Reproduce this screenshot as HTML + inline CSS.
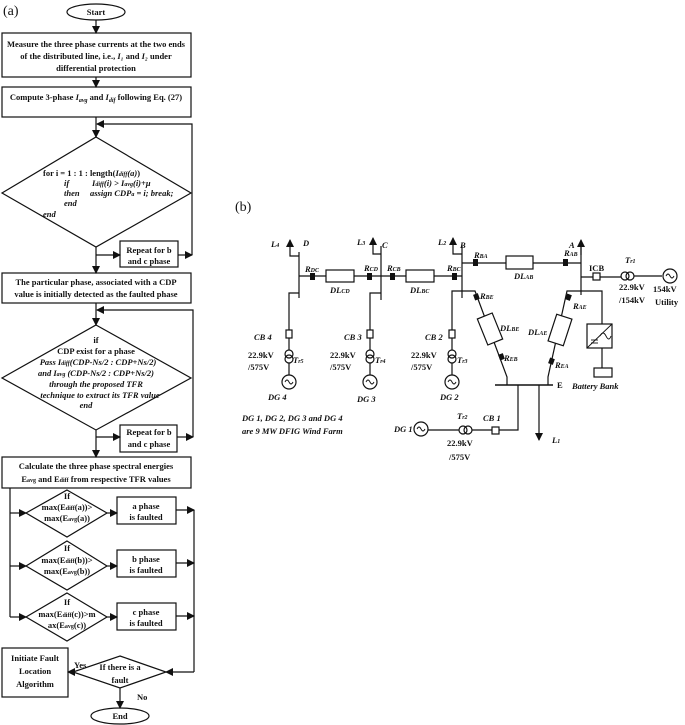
<!DOCTYPE html>
<html><head><meta charset="utf-8"><style>
html,body{margin:0;padding:0;background:#fff}
svg{display:block}
text{font-family:"Liberation Serif",serif;font-weight:bold;font-size:8.5px;fill:#111}
.it{font-style:italic}
.n{font-weight:normal;font-size:14px}
</style></head><body>
<svg width="685" height="725" viewBox="0 0 685 725" xmlns="http://www.w3.org/2000/svg">
<defs>
<marker id="ar" markerWidth="8" markerHeight="8" refX="7" refY="4" orient="auto" markerUnits="userSpaceOnUse"><path d="M0,0 L8,4 L0,8 Z" fill="#111"/></marker>
</defs>
<g stroke="#111" stroke-width="1.2" fill="none">
<!-- (a) flowchart -->
<ellipse cx="96" cy="12" rx="29" ry="8"/>
<line x1="96" y1="20" x2="96" y2="33" marker-end="url(#ar)"/>
<rect x="2" y="33" width="189" height="44"/>
<line x1="96" y1="77" x2="96" y2="87" marker-end="url(#ar)"/>
<rect x="2" y="87" width="189" height="30"/>
<line x1="96" y1="117" x2="96" y2="137" marker-end="url(#ar)"/>
<polyline points="192,255 192,124 97,124" marker-end="url(#ar)"/>
<polygon points="96,137 191,193 96,247 2,193"/>
<line x1="96" y1="247" x2="96" y2="273" marker-end="url(#ar)"/>
<line x1="96" y1="255" x2="120" y2="255" marker-end="url(#ar)"/>
<rect x="120" y="241" width="58" height="26"/>
<line x1="178" y1="255" x2="192" y2="255" marker-end="url(#ar)"/>
<rect x="2" y="273" width="189" height="30"/>
<line x1="96" y1="303" x2="96" y2="325" marker-end="url(#ar)"/>
<polyline points="193,437 193,310 97,310" marker-end="url(#ar)"/>
<polygon points="96,325 191,378 96,430 2,378"/>
<line x1="96" y1="430" x2="96" y2="457" marker-end="url(#ar)"/>
<line x1="96" y1="437" x2="120" y2="437" marker-end="url(#ar)"/>
<rect x="120" y="425" width="57" height="27"/>
<line x1="177" y1="437" x2="193" y2="437" marker-end="url(#ar)"/>
<rect x="2" y="457" width="189" height="31"/>
<line x1="10" y1="488" x2="10" y2="617"/>
<line x1="10" y1="513" x2="26" y2="513" marker-end="url(#ar)"/>
<line x1="10" y1="566" x2="26" y2="566" marker-end="url(#ar)"/>
<line x1="10" y1="617" x2="26" y2="617" marker-end="url(#ar)"/>
<polygon points="67,490 107,513 67,537 26,513"/>
<polygon points="67,541 107,566 67,590 26,566"/>
<polygon points="67,593 107,617 67,641 26,617"/>
<line x1="107" y1="513" x2="117" y2="513" marker-end="url(#ar)"/>
<line x1="107" y1="566" x2="117" y2="566" marker-end="url(#ar)"/>
<line x1="107" y1="617" x2="117" y2="617" marker-end="url(#ar)"/>
<rect x="117" y="497" width="59" height="27"/>
<rect x="117" y="550" width="59" height="27"/>
<rect x="117" y="603" width="59" height="27"/>
<line x1="176" y1="510" x2="194" y2="510" marker-end="url(#ar)"/>
<line x1="176" y1="563" x2="194" y2="563" marker-end="url(#ar)"/>
<line x1="176" y1="616" x2="194" y2="616" marker-end="url(#ar)"/>
<line x1="194" y1="510" x2="194" y2="672"/>
<line x1="194" y1="672" x2="166" y2="672" marker-end="url(#ar)"/>
<polygon points="120,656 166,672 120,688 73,672"/>
<line x1="73" y1="672" x2="68" y2="672" marker-end="url(#ar)"/>
<rect x="2" y="648" width="66" height="49"/>
<line x1="120" y1="688" x2="120" y2="708" marker-end="url(#ar)"/>
<ellipse cx="120" cy="716" rx="29" ry="8"/>

<!-- (b) network -->
<line x1="299" y1="276" x2="462" y2="276"/>
<line x1="462" y1="263" x2="581" y2="263"/>
<line x1="299" y1="252" x2="299" y2="298"/>
<line x1="381" y1="246" x2="381" y2="300"/>
<line x1="462" y1="246" x2="462" y2="298"/>
<line x1="581" y1="244" x2="581" y2="295"/>
<!-- loads -->
<polyline points="299,256 290,256 290,240" marker-end="url(#ar)"/>
<polyline points="381,254 373,254 373,238" marker-end="url(#ar)"/>
<polyline points="462,254 453,254 453,238" marker-end="url(#ar)"/>
<line x1="581" y1="255" x2="581" y2="240" marker-end="url(#ar)"/>
<!-- line boxes -->
<rect x="326" y="270" width="28" height="12" fill="#fff"/>
<rect x="406" y="270" width="28" height="12" fill="#fff"/>
<rect x="506" y="256" width="27" height="13" fill="#fff"/>
<!-- feeders -->
<polyline points="299,293 289,293 289,330"/>
<polyline points="381,293 370,293 370,330"/>
<polyline points="462,291 452,291 452,330"/>
<g>
<rect x="286" y="330" width="6" height="8"/><line x1="289" y1="338" x2="289" y2="350"/>
<circle cx="289" cy="354" r="4"/><circle cx="289" cy="359" r="4"/><line x1="289" y1="363" x2="289" y2="375"/>
<circle cx="289" cy="382" r="7"/>
<rect x="367" y="330" width="6" height="8"/><line x1="370" y1="338" x2="370" y2="350"/>
<circle cx="370" cy="354" r="4"/><circle cx="370" cy="359" r="4"/><line x1="370" y1="363" x2="370" y2="375"/>
<circle cx="370" cy="382" r="7"/>
<rect x="449" y="330" width="6" height="8"/><line x1="452" y1="338" x2="452" y2="350"/>
<circle cx="452" cy="354" r="4"/><circle cx="452" cy="359" r="4"/><line x1="452" y1="363" x2="452" y2="375"/>
<circle cx="452" cy="382" r="7"/>
</g>
<!-- ICB / utility -->
<line x1="581" y1="277" x2="621" y2="277"/>
<rect x="593" y="273" width="7" height="7" fill="#fff"/>
<circle cx="625" cy="276" r="4"/><circle cx="630" cy="276" r="4"/>
<line x1="634" y1="276" x2="662" y2="276"/>
<circle cx="670" cy="276" r="7"/>
<!-- E branches -->
<polyline points="462,291 475,291 507,377 507,385"/>
<polyline points="581,291 567,291 548,377 548,385"/>
<g transform="rotate(-22 490 329)"><rect x="482" y="315" width="16" height="28" fill="#fff"/></g>
<g transform="rotate(18 560 330)"><rect x="552" y="316" width="16" height="28" fill="#fff"/></g>
<polyline points="581,291 602,291 602,324"/>
<rect x="587" y="324" width="25" height="24"/>
<line x1="587" y1="348" x2="612" y2="324" stroke-width="0.9"/>
<path d="M600,336 q3,-6 6,0 q3,6 5,0" stroke-width="0.9"/>
<line x1="591" y1="340" x2="598" y2="340" stroke-width="0.9"/><line x1="591" y1="343" x2="598" y2="343" stroke-width="0.9"/>
<line x1="602" y1="348" x2="602" y2="368"/>
<rect x="594" y="368" width="18" height="9"/>
<line x1="495" y1="385" x2="553" y2="385" stroke-width="1.5"/>
<polyline points="518,385 518,430 499,430"/>
<rect x="492" y="427" width="7" height="7" fill="#fff"/>
<line x1="492" y1="430" x2="472" y2="430"/>
<circle cx="468" cy="430" r="4"/><circle cx="463" cy="430" r="4"/>
<line x1="459" y1="430" x2="428" y2="430"/>
<circle cx="421" cy="429" r="7"/>
<line x1="539" y1="385" x2="539" y2="440" marker-end="url(#ar)"/>
</g>
<!-- generator sine glyphs -->
<g stroke="#111" stroke-width="0.9" fill="none">
<path d="M285,382 q2,-4 4,0 q2,4 4,0"/><path d="M366,382 q2,-4 4,0 q2,4 4,0"/><path d="M448,382 q2,-4 4,0 q2,4 4,0"/>
<path d="M666,276 q2,-4 4,0 q2,4 4,0"/><path d="M417,429 q2,-4 4,0 q2,4 4,0"/>
</g>
<!-- relays -->
<g fill="#111">
<rect x="310" y="273" width="5" height="7"/><rect x="367" y="273" width="5" height="7"/>
<rect x="390" y="273" width="5" height="7"/><rect x="452" y="273" width="5" height="7"/>
<rect x="473" y="259" width="5" height="7"/><rect x="563" y="259" width="5" height="7"/>
<rect x="474" y="294" width="5" height="6" transform="rotate(-20 476 297)"/>
<rect x="499" y="354" width="5" height="6" transform="rotate(-20 501 357)"/>
<rect x="566" y="294" width="5" height="6" transform="rotate(20 568 297)"/>
<rect x="549" y="358" width="5" height="6" transform="rotate(20 551 361)"/>
</g>

<!-- text (a) -->
<text class="n" x="3" y="15">(a)</text>
<text x="96" y="15" text-anchor="middle">Start</text>
<text x="96" y="47" text-anchor="middle">Measure the three phase currents at the two ends</text>
<text x="96" y="59" text-anchor="middle">of the distributed line, i.e., <tspan class="it">I₁</tspan> and <tspan class="it">I₂</tspan> under</text>
<text x="96" y="71" text-anchor="middle">differential protection</text>
<text x="96" y="100" text-anchor="middle">Compute 3-phase <tspan class="it">I<tspan font-size="6" dy="2">avg</tspan></tspan><tspan dy="-2"> and </tspan><tspan class="it">I<tspan font-size="6" dy="2">dif</tspan></tspan><tspan dy="-2"> following  Eq. (27)</tspan></text>
<text x="43" y="176">for i = 1 : 1 : length(<tspan class="it">I<tspan font-size="6">diff</tspan>(a)</tspan>)</text>
<text class="it" x="64" y="186">if</text><text class="it" x="92" y="186">I<tspan font-size="6">diff</tspan>(i) &gt; I<tspan font-size="6">avg</tspan>(i)+μ</text>
<text class="it" x="64" y="196">then</text><text class="it" x="90" y="196">assign CDP<tspan font-size="6">a</tspan> = i; break;</text>
<text class="it" x="64" y="206">end</text>
<text class="it" x="43" y="217">end</text>
<text x="149" y="253" text-anchor="middle">Repeat for b</text>
<text x="149" y="264" text-anchor="middle">and c phase</text>
<text x="96" y="285" text-anchor="middle">The particular phase, associated with a CDP</text>
<text x="96" y="297" text-anchor="middle">value is initially detected as  the faulted phase</text>
<text x="96" y="343" text-anchor="middle">if</text>
<text x="96" y="354" text-anchor="middle">CDP exist for a phase</text>
<text class="it" x="98" y="365" text-anchor="middle">Pass I<tspan font-size="6">diff</tspan>(CDP-Ns/2 : CDP+Ns/2)</text>
<text class="it" x="96" y="376" text-anchor="middle">and I<tspan font-size="6">avg</tspan> (CDP-Ns/2 : CDP+Ns/2)</text>
<text class="it" x="96" y="387" text-anchor="middle">through the proposed TFR</text>
<text class="it" x="100" y="398" text-anchor="middle">technique to extract its TFR value</text>
<text class="it" x="86" y="408" text-anchor="middle">end</text>
<text x="149" y="435" text-anchor="middle">Repeat for b</text>
<text x="149" y="447" text-anchor="middle">and c phase</text>
<text x="96" y="469" text-anchor="middle">Calculate the three phase spectral energies</text>
<text x="96" y="482" text-anchor="middle">E<tspan font-size="6">avg</tspan> and E<tspan font-size="6">diff</tspan> from respective TFR values</text>
<text x="67" y="499" text-anchor="middle">If</text>
<text x="67" y="510" text-anchor="middle">max(E<tspan font-size="6">diff</tspan>(a))&gt;</text>
<text x="67" y="521" text-anchor="middle">max(E<tspan font-size="6">avg</tspan>(a))</text>
<text x="67" y="551" text-anchor="middle">If</text>
<text x="67" y="563" text-anchor="middle">max(E<tspan font-size="6">diff</tspan>(b))&gt;</text>
<text x="67" y="574" text-anchor="middle">max(E<tspan font-size="6">avg</tspan>(b))</text>
<text x="67" y="605" text-anchor="middle">If</text>
<text x="67" y="617" text-anchor="middle">max(E<tspan font-size="6">diff</tspan>(c))&gt;m</text>
<text x="67" y="628" text-anchor="middle">ax(E<tspan font-size="6">avg</tspan>(c))</text>
<text x="146" y="509" text-anchor="middle">a phase</text><text x="146" y="520" text-anchor="middle">is faulted</text>
<text x="146" y="562" text-anchor="middle">b phase</text><text x="146" y="573" text-anchor="middle">is faulted</text>
<text x="146" y="615" text-anchor="middle">c phase</text><text x="146" y="626" text-anchor="middle">is faulted</text>
<text x="120" y="670" text-anchor="middle">If  there is a</text>
<text x="120" y="683" text-anchor="middle">fault</text>
<text x="35" y="661" text-anchor="middle">Initiate Fault</text>
<text x="35" y="674" text-anchor="middle">Location</text>
<text x="35" y="687" text-anchor="middle">Algorithm</text>
<text x="74" y="668">Yes</text>
<text x="137" y="700">No</text>
<text x="120" y="719" text-anchor="middle">End</text>

<!-- text (b) -->
<text class="n" x="235" y="211">(b)</text>
<g class="it">
<text class="it" x="271" y="247">L<tspan font-size="6">4</tspan></text><text class="it" x="303" y="246">D</text>
<text class="it" x="357" y="245">L<tspan font-size="6">3</tspan></text><text class="it" x="382" y="248">C</text>
<text class="it" x="438" y="245">L<tspan font-size="6">2</tspan></text><text class="it" x="460" y="248">B</text>
<text class="it" x="569" y="248">A</text>
<text class="it" x="305" y="272">R<tspan font-size="6">DC</tspan></text>
<text class="it" x="364" y="271">R<tspan font-size="6">CD</tspan></text>
<text class="it" x="387" y="271">R<tspan font-size="6">CB</tspan></text>
<text class="it" x="447" y="271">R<tspan font-size="6">BC</tspan></text>
<text class="it" x="330" y="293">DL<tspan font-size="6">CD</tspan></text>
<text class="it" x="410" y="293">DL<tspan font-size="6">BC</tspan></text>
<text class="it" x="474" y="258">R<tspan font-size="6">BA</tspan></text>
<text class="it" x="564" y="256">R<tspan font-size="6">AB</tspan></text>
<text class="it" x="514" y="279">DL<tspan font-size="6">AB</tspan></text>
<text class="it" x="480" y="299">R<tspan font-size="6">BE</tspan></text>
<text class="it" x="500" y="331">DL<tspan font-size="6">BE</tspan></text>
<text class="it" x="504" y="361">R<tspan font-size="6">EB</tspan></text>
<text class="it" x="528" y="335">DL<tspan font-size="6">AE</tspan></text>
<text class="it" x="573" y="309">R<tspan font-size="6">AE</tspan></text>
<text class="it" x="555" y="368">R<tspan font-size="6">EA</tspan></text>
<text class="it" x="625" y="263">T<tspan font-size="6">r1</tspan></text>
<text class="it" x="293" y="363">T<tspan font-size="6">r5</tspan></text>
<text class="it" x="375" y="363">T<tspan font-size="6">r4</tspan></text>
<text class="it" x="457" y="363">T<tspan font-size="6">r3</tspan></text>
<text class="it" x="457" y="419">T<tspan font-size="6">r2</tspan></text>
<text class="it" x="254" y="340">CB 4</text>
<text class="it" x="344" y="340">CB 3</text>
<text class="it" x="425" y="340">CB 2</text>
<text class="it" x="483" y="421">CB 1</text>
<text class="it" x="268" y="400">DG 4</text>
<text class="it" x="357" y="402">DG 3</text>
<text class="it" x="440" y="400">DG 2</text>
<text class="it" x="394" y="432">DG 1</text>
<text class="it" x="552" y="443">L<tspan font-size="6">1</tspan></text>
<text class="it" x="572" y="389">Battery Bank</text>
<text class="it" x="242" y="421">DG 1, DG 2, DG 3 and DG 4</text>
<text class="it" x="242" y="434">are 9 MW DFIG Wind Farm</text>
</g>
<text x="248" y="358">22.9kV</text><text x="248" y="370">/575V</text>
<text x="330" y="358">22.9kV</text><text x="330" y="370">/575V</text>
<text x="411" y="358">22.9kV</text><text x="411" y="370">/575V</text>
<text x="447" y="446">22.9kV</text><text x="449" y="460">/575V</text>
<text x="557" y="388">E</text>
<text x="589" y="271">ICB</text>
<text x="619" y="290">22.9kV</text><text x="619" y="303">/154kV</text>
<text x="653" y="292">154kV</text><text x="655" y="305">Utility</text>
</svg>
</body></html>
